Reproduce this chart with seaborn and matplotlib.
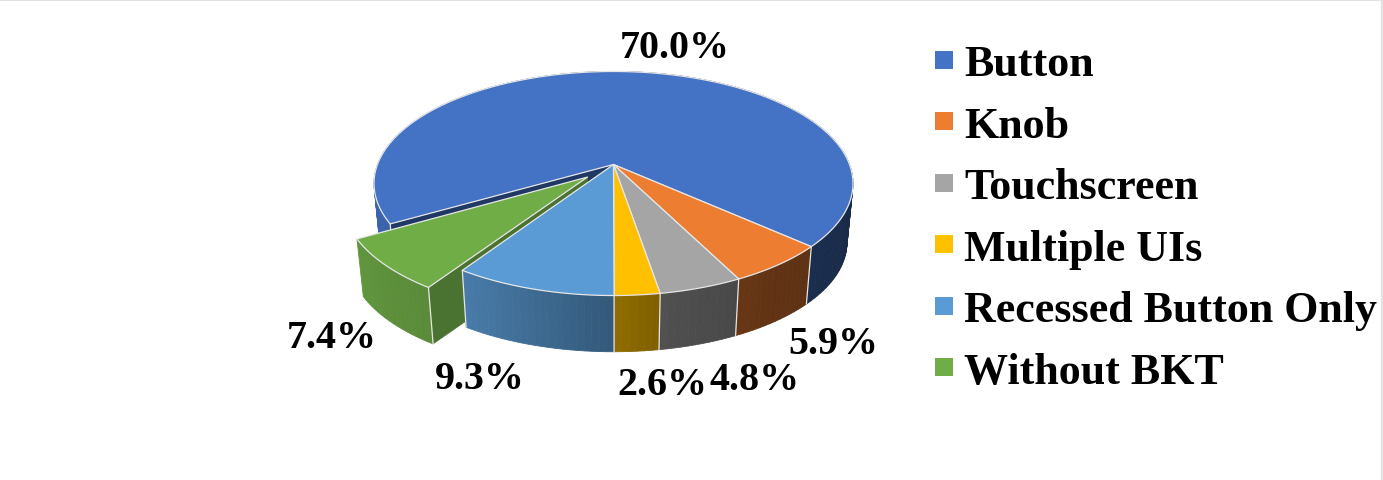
"""
3D style pie of interface types, drawn on a pixel sized axes
"""
import numpy as np
import matplotlib
matplotlib.use("Agg")
import matplotlib.pyplot as plt
from matplotlib.lines import Line2D
import seaborn as sns

categories = ['Button', 'Knob', 'Touchscreen', 'Multiple UIs', 'Recessed Button Only', 'Without BKT']
shares = [70.0, 5.9, 4.8, 2.6, 9.3, 7.4]
slice_colors = ['#4472C4', '#ED7D31', '#A5A5A5', '#FFC000', '#5B9BD5', '#70AD47']

# label centres in picture pixels, same order as categories
label_pos = [(675, 49), (833, 345), (755, 381), (662, 386), (480, 380), (332, 339)]

CX, CY = 613.5, 165.5
RX, RY = 236, 108.8
K = 0.1696        # perspective
DEPTH = 59.5      # pie thickness
FLOOR = 0.975     # bottom disc is a little smaller
START = 240       # first slice angle, clockwise from top
EXPLODE = 0.165
NUDGE = 0.012     # pulled out slice sits a bit right of its radial direction
EDGE = '#e6e6e6'


def project(u, v, bottom=False):
    """Disc coordinates to picture pixels"""
    f = FLOOR if bottom else 1.0
    w = 1 - K * v
    return CX + RX * f * u / w, CY + (DEPTH if bottom else 0) + RY * f * v / w


def shade(u):
    """Darkening of the side wall, it depends on where it faces"""
    return np.interp(u, [-1, -0.55, 0, 0.2, 0.6, 1], [0.88, 0.80, 0.57, 0.48, 0.41, 0.37])


def darker(color, factor):
    return tuple(c * factor for c in matplotlib.colors.to_rgb(color))


def draw_side(ax, a0, a1, color, off, z):
    """Curved wall as small quads so the gradient shows"""
    n = max(int(abs(a1 - a0) / 1.5), 2)
    angles = np.radians(np.linspace(a0, a1, n + 1))
    for t0, t1 in zip(angles[:-1], angles[1:]):
        u0, v0 = np.sin(t0) + off[0], -np.cos(t0) + off[1]
        u1, v1 = np.sin(t1) + off[0], -np.cos(t1) + off[1]
        xa, ya = project(u0, v0)
        xb, yb = project(u1, v1)
        xc, yc = project(u1, v1, True)
        xd, yd = project(u0, v0, True)
        c = darker(color, shade((np.sin(t0) + np.sin(t1)) / 2))
        ax.fill([xa, xb, xc, xd], [ya, yb, yc, yd], color=c, lw=0.6, zorder=z)


def draw_seam(ax, a, off, z):
    t = np.radians(a)
    u, v = np.sin(t) + off[0], -np.cos(t) + off[1]
    xa, ya = project(u, v)
    xb, yb = project(u, v, True)
    ax.plot([xa, xb], [ya, yb], color=EDGE, lw=0.9, zorder=z)


def draw_wall(ax, a, color, off, z):
    """Flat radial wall between the centre and the rim"""
    t = np.radians(a)
    u, v = np.sin(t) + off[0], -np.cos(t) + off[1]
    p = [project(off[0], off[1]), project(u, v), project(u, v, True), project(off[0], off[1], True)]
    ax.fill([q[0] for q in p], [q[1] for q in p], color=color, lw=0.5, zorder=z)


def draw_top(ax, a0, a1, color, off, z):
    t = np.radians(np.linspace(a0, a1, max(int(abs(a1 - a0)), 2) + 1))
    xs, ys = project(np.sin(t) + off[0], -np.cos(t) + off[1])
    x0, y0 = project(off[0], off[1])
    ax.fill(np.r_[x0, xs], np.r_[y0, ys], facecolor=color, edgecolor=EDGE, lw=0.9,
            joinstyle='round', zorder=z)


sns.set_theme(style="white")
plt.rcParams['font.family'] = ['Liberation Serif', 'DejaVu Serif']
palette = sns.color_palette(slice_colors)

fig = plt.figure(figsize=(13.83, 4.81), dpi=100)
ax = fig.add_axes([0, 0, 1, 1])
ax.set_xlim(0, 1383)
ax.set_ylim(481, 0)
ax.set_xticks([])
ax.set_yticks([])

edges = START + np.r_[0, np.cumsum(shares)] * 3.6

# Button sits at the back, the pulled out slice goes over it
draw_side(ax, edges[0], edges[1], palette[0], (0, 0), 1)
draw_wall(ax, edges[0], '#1F3864', (0, 0), 2)
draw_top(ax, edges[0], edges[1], palette[0], (0, 0), 3)
draw_seam(ax, edges[0], (0, 0), 2.5)

mid = np.radians((edges[5] + edges[6]) / 2)
off = (EXPLODE * np.sin(mid) + NUDGE, -EXPLODE * np.cos(mid))
draw_wall(ax, edges[5], '#4A7230', off, 4)
draw_side(ax, edges[5], edges[6], palette[5], off, 5)
draw_seam(ax, edges[5], off, 6)
draw_top(ax, edges[5], edges[6], palette[5], off, 7)

for i in range(1, 5):
    draw_side(ax, edges[i], edges[i + 1], palette[i], (0, 0), 8)
for i in range(1, 6):
    draw_seam(ax, edges[i], (0, 0), 9)
for i in range(1, 5):
    draw_top(ax, edges[i], edges[i + 1], palette[i], (0, 0), 10)

for value, (x, y) in zip(shares, label_pos):
    ax.text(x, y, f'{value:.1f}%', ha='center', va='center', fontsize=28.8,
            fontweight='bold', color='black', zorder=20)

# 17.5 px squares as legend markers
handles = [Line2D([], [], linestyle='none', marker='s', markersize=12.6, markerfacecolor=c,
                  markeredgewidth=0, label=n) for c, n in zip(palette, categories)]
ax.legend(handles=handles, loc='upper left', bbox_to_anchor=(935, 45), bbox_transform=ax.transData,
          frameon=False, borderpad=0, borderaxespad=0, handlelength=0.4, numpoints=1,
          handletextpad=0.26, labelspacing=0.49, labelcolor='black',
          prop={'family': 'Liberation Serif', 'weight': 'bold', 'size': 31.7})

# thin grey frame of the screenshot
sns.despine(ax=ax, top=False, right=False, left=True, bottom=True)
for side in ['top', 'right']:
    ax.spines[side].set_color('#e2e2e2')
    ax.spines[side].set_linewidth(3)

fig.savefig('out.png', dpi=100)
plt.close(fig)
